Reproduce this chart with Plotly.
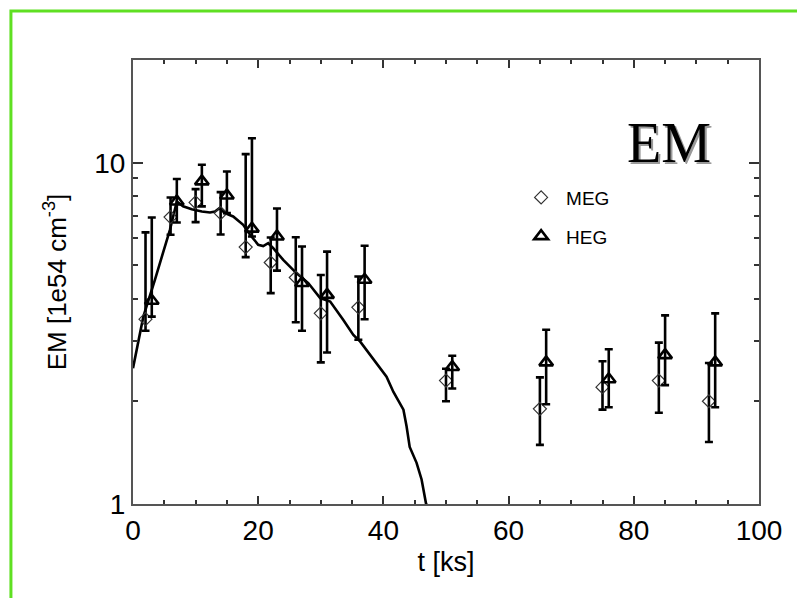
import plotly.graph_objects as go

# ---- data ----
t_meg = [2, 6, 10, 14, 18, 22, 26, 30, 36, 50, 65, 75, 84, 92]
em_meg = [3.48, 6.93, 7.65, 7.12, 5.66, 5.10, 4.61, 3.62, 3.77, 2.30, 1.90, 2.20, 2.30, 2.00]
meg_hi = [6.25, 7.91, 8.37, 8.20, 10.6, 6.04, 6.05, 4.69, 4.64, 2.49, 2.35, 2.62, 2.97, 2.59]
meg_lo = [3.22, 6.15, 6.70, 6.16, 5.29, 4.15, 3.41, 2.60, 3.03, 2.00, 1.49, 1.89, 1.85, 1.52]

t_heg = [3, 7, 11, 15, 19, 23, 27, 31, 37, 51, 66, 76, 85, 93]
em_heg = [3.94, 7.70, 8.82, 8.02, 6.41, 6.08, 4.44, 4.10, 4.54, 2.52, 2.60, 2.32, 2.73, 2.60]
heg_hi = [6.91, 8.96, 9.86, 9.43, 11.8, 7.34, 5.68, 5.49, 5.71, 2.72, 3.24, 2.84, 3.57, 3.62]
heg_lo = [3.54, 6.68, 7.45, 7.12, 6.08, 4.83, 3.22, 2.78, 3.48, 2.18, 1.96, 1.92, 2.23, 1.92]

t_model = [0, 1.65, 3.5, 5.9, 7.0, 8.0, 9.4, 11.0, 12.3, 13.1, 13.8, 14.7, 16.0, 17.6,
           18.7, 20.0, 20.8, 21.6, 22.4, 24.0, 26.1, 28.0, 29.9, 31.5, 33.6, 35.2, 36.3,
           38.4, 40.5, 41.6, 43.2, 43.7, 44.2, 45.3, 46.1, 46.8, 47.2]
em_model = [2.50, 3.54, 4.54, 6.36, 7.70, 7.45, 7.31, 7.20, 7.15, 7.20, 7.36, 7.12, 6.96, 6.58,
            6.15, 5.75, 5.70, 5.81, 5.62, 5.19, 4.75, 4.44, 4.01, 3.92, 3.46, 3.13, 2.99,
            2.65, 2.36, 2.13, 1.89, 1.69, 1.47, 1.32, 1.18, 1.005, 0.97]

x_ticks = [0, 20, 40, 60, 80, 100]
y_ticks = [1, 10]
y_minor = [2, 3, 4, 5, 6, 7, 8, 9, 20]

FONT = "Liberation Sans, Arial, Helvetica, sans-serif"

fig = go.Figure()

fig.add_trace(go.Scatter(
    x=t_model, y=em_model, mode="lines",
    line=dict(color="black", width=2.6), showlegend=False, hoverinfo="skip"))

fig.add_trace(go.Scatter(
    x=t_meg, y=em_meg, mode="markers", name="MEG", legendgroup="meg",
    marker=dict(symbol="diamond-open", size=10, color="#333333", line=dict(width=1.2)),
    error_y=dict(type="data", symmetric=False,
                 array=[h - v for h, v in zip(meg_hi, em_meg)],
                 arrayminus=[v - l for v, l in zip(em_meg, meg_lo)],
                 color="black", thickness=2.6, width=4)))

fig.add_trace(go.Scatter(
    x=t_heg, y=em_heg, mode="markers", name="HEG", legendgroup="heg",
    marker=dict(symbol="triangle-up-open", size=12, color="black", line=dict(width=2.6)),
    error_y=dict(type="data", symmetric=False,
                 array=[h - v for h, v in zip(heg_hi, em_heg)],
                 arrayminus=[v - l for v, l in zip(em_heg, heg_lo)],
                 color="black", thickness=2.6, width=4)))

axis_common = dict(
    showline=True, linecolor="#555555", linewidth=2, mirror="allticks",
    ticks="inside", tickcolor="#333333", tickwidth=1.5,
    showgrid=False, zeroline=False,
    tickfont=dict(family=FONT, size=28, color="black"),
)

fig.update_xaxes(
    range=[0, 100], tickmode="array", tickvals=x_ticks, ticklen=8,
    minor=dict(ticks="inside", tickmode="array",
               tickvals=[v for v in range(0, 101, 5) if v % 20 != 0],
               ticklen=4, tickcolor="#333333", tickwidth=1.5, showgrid=False),
    title=dict(text="t [ks]", font=dict(family=FONT, size=27, color="black"), standoff=8),
    **axis_common)

fig.update_yaxes(
    type="log", range=[0, 1.30103], tickmode="array", tickvals=y_ticks,
    ticktext=[str(v) for v in y_ticks], ticklen=10,
    minor=dict(ticks="inside", tickmode="array", tickvals=y_minor,
               ticklen=5, tickcolor="#333333", tickwidth=1.5, showgrid=False),
    title=dict(text="EM [1e54 cm<sup>-3</sup>]", font=dict(family=FONT, size=26, color="black"),
               standoff=20),
    **axis_common)

# big "EM" label with shadow
for dx, dy, col in [(2, -2, "#9a9a9a"), (0, 0, "black")]:
    fig.add_annotation(x=0.856, y=0.813, xref="paper", yref="paper", text="EM",
                       xanchor="center", yanchor="middle",
                       showarrow=False, xshift=dx, yshift=dy,
                       font=dict(family="Liberation Serif, Times New Roman, serif", size=56, color=col))

# green frame
fig.add_shape(type="rect", xref="paper", yref="paper",
              x0=-0.195, x1=1.3, y0=-0.4, y1=1.1104,
              line=dict(color="#5fe022", width=3), fillcolor="rgba(0,0,0,0)", layer="above")

fig.update_layout(
    width=797, height=598,
    margin=dict(l=133, r=38, t=60, b=94),
    paper_bgcolor="white", plot_bgcolor="white",
    showlegend=True,
    legend=dict(x=0.612, y=0.733, xanchor="left", yanchor="top", itemwidth=40,
                bgcolor="rgba(0,0,0,0)", tracegroupgap=11, traceorder="grouped",
                font=dict(family=FONT, size=19, color="black")),
)

fig.write_html("out.html")
